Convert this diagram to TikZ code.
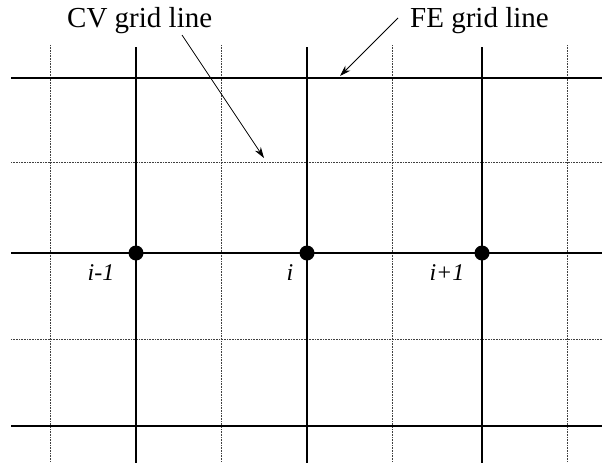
\documentclass[tikz,border=0pt]{standalone}
\usepackage{fontspec}
\setmainfont{Liberation Serif}
\usetikzlibrary{arrows.meta}
\begin{document}
\begin{tikzpicture}[x=1pt,y=-1pt,
  feline/.style={line width=2pt,black},
  cvline/.style={line width=0.8pt,black!75,dash pattern=on 0.8pt off 0.8pt},
  nodept/.style={circle,fill=black,inner sep=0pt,minimum size=15pt},
  ilabel/.style={inner sep=0pt,anchor=base,font=\fontsize{24}{28}\selectfont\itshape},
  title/.style={inner sep=0pt,anchor=base west,font=\fontsize{29}{34}\selectfont},
  pointer/.style={line width=0.8pt,-{Stealth[length=11pt,width=7pt]}}]
\useasboundingbox (0,0) rectangle (605,466);
% CV grid lines (dotted)
\foreach \y in {162,339} \draw[cvline] (11,\y) -- (602,\y);
\foreach \x in {50,221,392,567} \draw[cvline] (\x,45) -- (\x,462);
% FE grid lines (thick)
\foreach \y in {78,253,426} \draw[feline] (11,\y) -- (602,\y);
\foreach \x in {136,307,482} \draw[feline] (\x,47) -- (\x,463);
% nodes
\node[nodept] (n1) at (136,253) {};
\node[nodept] (n2) at (307,253) {};
\node[nodept] (n3) at (482,253) {};
\node[ilabel] (l1) at (101,280) {i-1};
\node[ilabel] (l2) at (290,280) {i};
\node[ilabel] (l3) at (447,280) {i+1};
% titles
\node[title] (cv) at (67,27) {CV grid line};
\node[title] (fe) at (410,27) {FE grid line};
\coordinate (cvs) at (182,35);
\coordinate (cvt) at (264,158);
\coordinate (fes) at (398,18);
\coordinate (fet) at (340,76);
\draw[pointer] (cvs) -- (cvt);
\draw[pointer] (fes) -- (fet);
\end{tikzpicture}
\end{document}
